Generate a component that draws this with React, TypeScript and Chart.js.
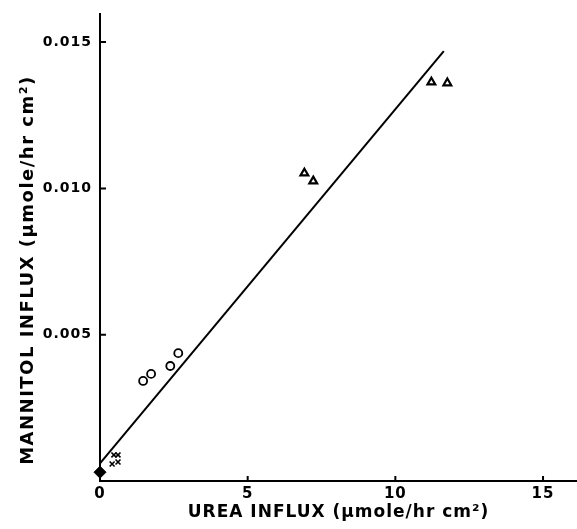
import React, { useEffect, useRef } from 'react';
import { Chart, registerables } from 'chart.js';

Chart.register(...registerables);

const diamondX = [0];
const diamondY = [0.0003];
const crossX = [0.47, 0.61, 0.41, 0.61];
const crossY = [0.00089, 0.00089, 0.00058, 0.00065];
const circleX = [1.46, 1.73, 2.38, 2.65];
const circleY = [0.00342, 0.00366, 0.00393, 0.00437];
const triangleX = [6.92, 7.22, 11.22, 11.76];
const triangleY = [0.01052, 0.01025, 0.01363, 0.0136];
const fitX = [0, 11.64];
const fitY = [0.0006, 0.01469];
const xTicks = [0, 5, 10, 15];
const yTicks = [0.005, 0.01, 0.015];
const xTitle = 'UREA INFLUX (\u03bcmole/hr cm\u00b2)';
const yTitle = 'MANNITOL INFLUX (\u03bcmole/hr cm\u00b2)';

const FONT = "'DejaVu Sans', sans-serif";

const pts = (xs: number[], ys: number[]) => xs.map((x, i) => ({ x, y: ys[i] }));

export default function App() {
  const ref = useRef<HTMLCanvasElement>(null);
  useEffect(() => {
    document.body.style.margin = '0';
    const canvas = ref.current!;
    const inwardTicks = {
      id: 'inwardTicks',
      beforeDraw(chart: any) {
        chart.ctx.letterSpacing = '1px';
      },
      afterDraw(chart: any) {
        const ctx = chart.ctx;
        const xs = chart.scales.x;
        const ys = chart.scales.y;
        const area = chart.chartArea;
        ctx.save();
        ctx.strokeStyle = '#000';
        ctx.lineWidth = 2;
        ctx.beginPath();
        xTicks.forEach((v) => {
          if (v === 0) return;
          const px = xs.getPixelForValue(v);
          ctx.moveTo(px, area.bottom);
          ctx.lineTo(px, area.bottom - 5);
        });
        yTicks.forEach((v) => {
          const py = ys.getPixelForValue(v);
          ctx.moveTo(area.left, py);
          ctx.lineTo(area.left + 6, py);
        });
        ctx.stroke();
        // y axis title
        ctx.fillStyle = '#000';
        ctx.letterSpacing = '1.5px';
        ctx.font = `bold 18px ${FONT}`;
        ctx.textAlign = 'center';
        ctx.textBaseline = 'middle';
        ctx.translate(28, 270);
        ctx.rotate(-Math.PI / 2);
        ctx.fillText(yTitle, 0, 0);
        ctx.restore();
      },
    };
    const chart = new Chart(canvas, {
      type: 'scatter',
      data: {
        datasets: [
          {
            type: 'line',
            data: pts(fitX, fitY),
            borderColor: '#000',
            borderWidth: 2,
            pointRadius: 0,
            showLine: true,
            fill: false,
            clip: false,
          } as any,
          {
            data: pts(diamondX, diamondY),
            pointStyle: 'rectRot',
            pointRadius: 6,
            backgroundColor: '#000',
            borderColor: '#000',
            borderWidth: 1,
            clip: false,
          },
          {
            data: pts(crossX, crossY),
            pointStyle: 'crossRot',
            pointRadius: 3.5,
            borderColor: '#000',
            borderWidth: 1.6,
            clip: false,
          },
          {
            data: pts(circleX, circleY),
            pointStyle: 'circle',
            pointRadius: 4,
            backgroundColor: 'rgba(0,0,0,0)',
            borderColor: '#000',
            borderWidth: 1.8,
          },
          {
            data: pts(triangleX, triangleY),
            pointStyle: 'triangle',
            pointRadius: 4.5,
            backgroundColor: 'rgba(0,0,0,0)',
            borderColor: '#000',
            borderWidth: 2.2,
          },
        ],
      },
      options: {
        responsive: false,
        animation: false,
        layout: { autoPadding: false, padding: { top: 14, right: 0, left: 0, bottom: 0 } },
        plugins: { legend: { display: false }, tooltip: { enabled: false }, title: { display: false } },
        scales: {
          x: {
            type: 'linear',
            min: 0,
            max: 16.15,
            afterFit: (s: any) => { s.height = 48; s.paddingLeft = 0; s.paddingRight = 0; },
            afterBuildTicks: (s: any) => { s.ticks = xTicks.map((v) => ({ value: v })); },
            grid: { display: false, drawTicks: false },
            border: { display: true, color: '#000', width: 2 },
            ticks: {
              color: '#000',
              font: { family: FONT, size: 15, weight: 'bold' },
              padding: 4,
              maxRotation: 0,
              autoSkip: false,
              callback: (v: any) => String(v),
            },
            title: {
              display: true,
              text: xTitle,
              color: '#000',
              font: { family: FONT, size: 17, weight: 'bold' },
              padding: { top: 0, bottom: 6 },
            },
          },
          y: {
            type: 'linear',
            min: 0,
            max: 0.01596,
            afterFit: (s: any) => { s.width = 100; s.paddingTop = 0; s.paddingBottom = 0; },
            afterBuildTicks: (s: any) => { s.ticks = yTicks.map((v) => ({ value: v })); },
            grid: { display: false, drawTicks: false },
            border: { display: true, color: '#000', width: 2 },
            ticks: {
              color: '#000',
              font: { family: FONT, size: 14, weight: 'bold' },
              padding: 8,
              autoSkip: false,
              callback: (v: any) => Number(v).toFixed(3),
            },
          },
        },
      },
      plugins: [inwardTicks],
    });
    return () => chart.destroy();
  }, []);
  return (
    <div style={{ position: 'absolute', left: 0, top: 0, width: 577, height: 529, background: '#fff' }}>
      <canvas ref={ref} width={577} height={529} style={{ width: 577, height: 529 }} />
    </div>
  );
}
